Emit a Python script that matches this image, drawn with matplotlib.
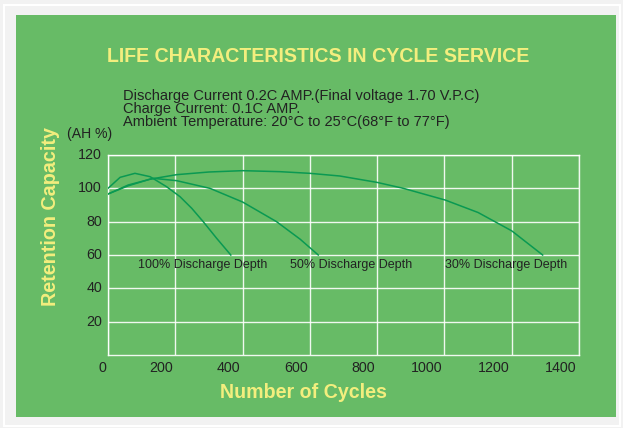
import matplotlib

matplotlib.use("Agg")
import matplotlib.pyplot as plt
from matplotlib.patches import Rectangle
from matplotlib.transforms import offset_copy

plt.rcParams["font.family"] = ["Liberation Sans", "DejaVu Sans"]

# curves: cycles vs retention capacity (AH %)
cycles_100 = [0, 36, 80, 125, 174, 214, 249, 283, 323, 365]
capacity_100 = [100, 106.6, 109, 107, 101, 95, 88, 80, 70, 60]

cycles_50 = [0, 60, 135, 204, 303, 400, 501, 571, 625]
capacity_50 = [96.6, 102, 106, 104.6, 100, 91.8, 80, 69.5, 60]

cycles_30 = [0, 60, 125, 204, 300, 400, 511, 600, 689, 799, 878, 1002, 1100, 1200, 1292]
capacity_30 = [96.6, 101.5, 105.5, 108.2, 109.8, 110.6, 110, 109, 107.4, 103.6, 100, 93, 85.5, 74.5, 60]

depth_labels = ["100% Discharge Depth", "50% Discharge Depth", "30% Discharge Depth"]
depth_label_x = [90, 540, 1003]
depth_label_y = 54

x_ticks = [0, 200, 400, 600, 800, 1000, 1200, 1400]
y_ticks = [20, 40, 60, 80, 100, 120]

info_lines = [
    "Discharge Current 0.2C AMP.(Final voltage 1.70 V.P.C)",
    "Charge Current: 0.1C AMP.",
    "Ambient Temperature: 20°C to 25°C(68°F to 77°F)",
]

BG = "#67bb66"
YELLOW = "#f3ee7e"
LINE = "#0a9952"
TEXT = "#222222"

W, H = 623, 428
fig = plt.figure(figsize=(W / 100, H / 100), dpi=100, facecolor="#f2f2f2")
fig.patches.append(Rectangle((4 / W, (H - 426) / H), (620 - 4) / W, (426 - 5) / H,
                             transform=fig.transFigure, facecolor="none", edgecolor="white",
                             lw=1.5, zorder=-11))
fig.patches.append(Rectangle((16 / W, (H - 417) / H), (616 - 16) / W, (417 - 15) / H,
                             transform=fig.transFigure, facecolor=BG, edgecolor="none", zorder=-10))

ax = fig.add_axes([108 / W, (H - 355) / H, (579 - 108) / W, (355 - 155) / H])
ax.set_facecolor("none")
ax.set_zorder(5)
ax.set_xlim(0, 1400)
ax.set_ylim(0, 120)

for x in x_ticks:
    ax.axvline(x, color="white", lw=1, alpha=0.9, zorder=1)
for y in y_ticks:
    ax.axhline(y, color="white", lw=1, alpha=0.9, zorder=1)
for s in ax.spines.values():
    s.set_color("white")
    s.set_alpha(0.9)
    s.set_linewidth(1)

ax.plot(cycles_100, capacity_100, color=LINE, lw=1.1, zorder=3)
ax.plot(cycles_50, capacity_50, color=LINE, lw=1.1, zorder=3)
ax.plot(cycles_30, capacity_30, color=LINE, lw=1.1, zorder=3)

for lbl, x in zip(depth_labels, depth_label_x):
    ax.text(x, depth_label_y, lbl, fontsize=9.0, color=TEXT, ha="left", va="center")

ax.set_xticks([])
ax.set_yticks([])
for x in x_ticks:
    ax.text(x, 0, str(x), fontsize=10.3, color=TEXT, ha="right", va="center", clip_on=False,
            transform=offset_copy(ax.transData, fig=fig, x=-2, y=-13, units="dots"))
for y in y_ticks:
    ax.text(0, y, str(y), fontsize=10.3, color=TEXT, ha="right", va="center", clip_on=False,
            transform=offset_copy(ax.transData, fig=fig, x=-6, y=0, units="dots"))


def fx(px):
    return px / W


def fy(py):
    return 1 - py / H


fig.text(fx(318), fy(56), "LIFE CHARACTERISTICS IN CYCLE SERVICE", fontsize=14.1,
         fontweight="bold", color=YELLOW, ha="center", va="center")
for i, line in enumerate(info_lines):
    fig.text(fx(123), fy(96 + 13 * i), line, fontsize=10.5, color=TEXT, ha="left", va="center")
fig.text(fx(67), fy(134), "(AH %)", fontsize=10.1, color=TEXT, ha="left", va="center")
fig.text(fx(303), fy(392), "Number of Cycles", fontsize=14.1, fontweight="bold",
         color=YELLOW, ha="center", va="center")
fig.text(fx(51), fy(216), "Retention Capacity", fontsize=14.2, fontweight="bold",
         color=YELLOW, ha="center", va="center", rotation=90)

fig.savefig("out.png", dpi=100, facecolor=fig.get_facecolor())
